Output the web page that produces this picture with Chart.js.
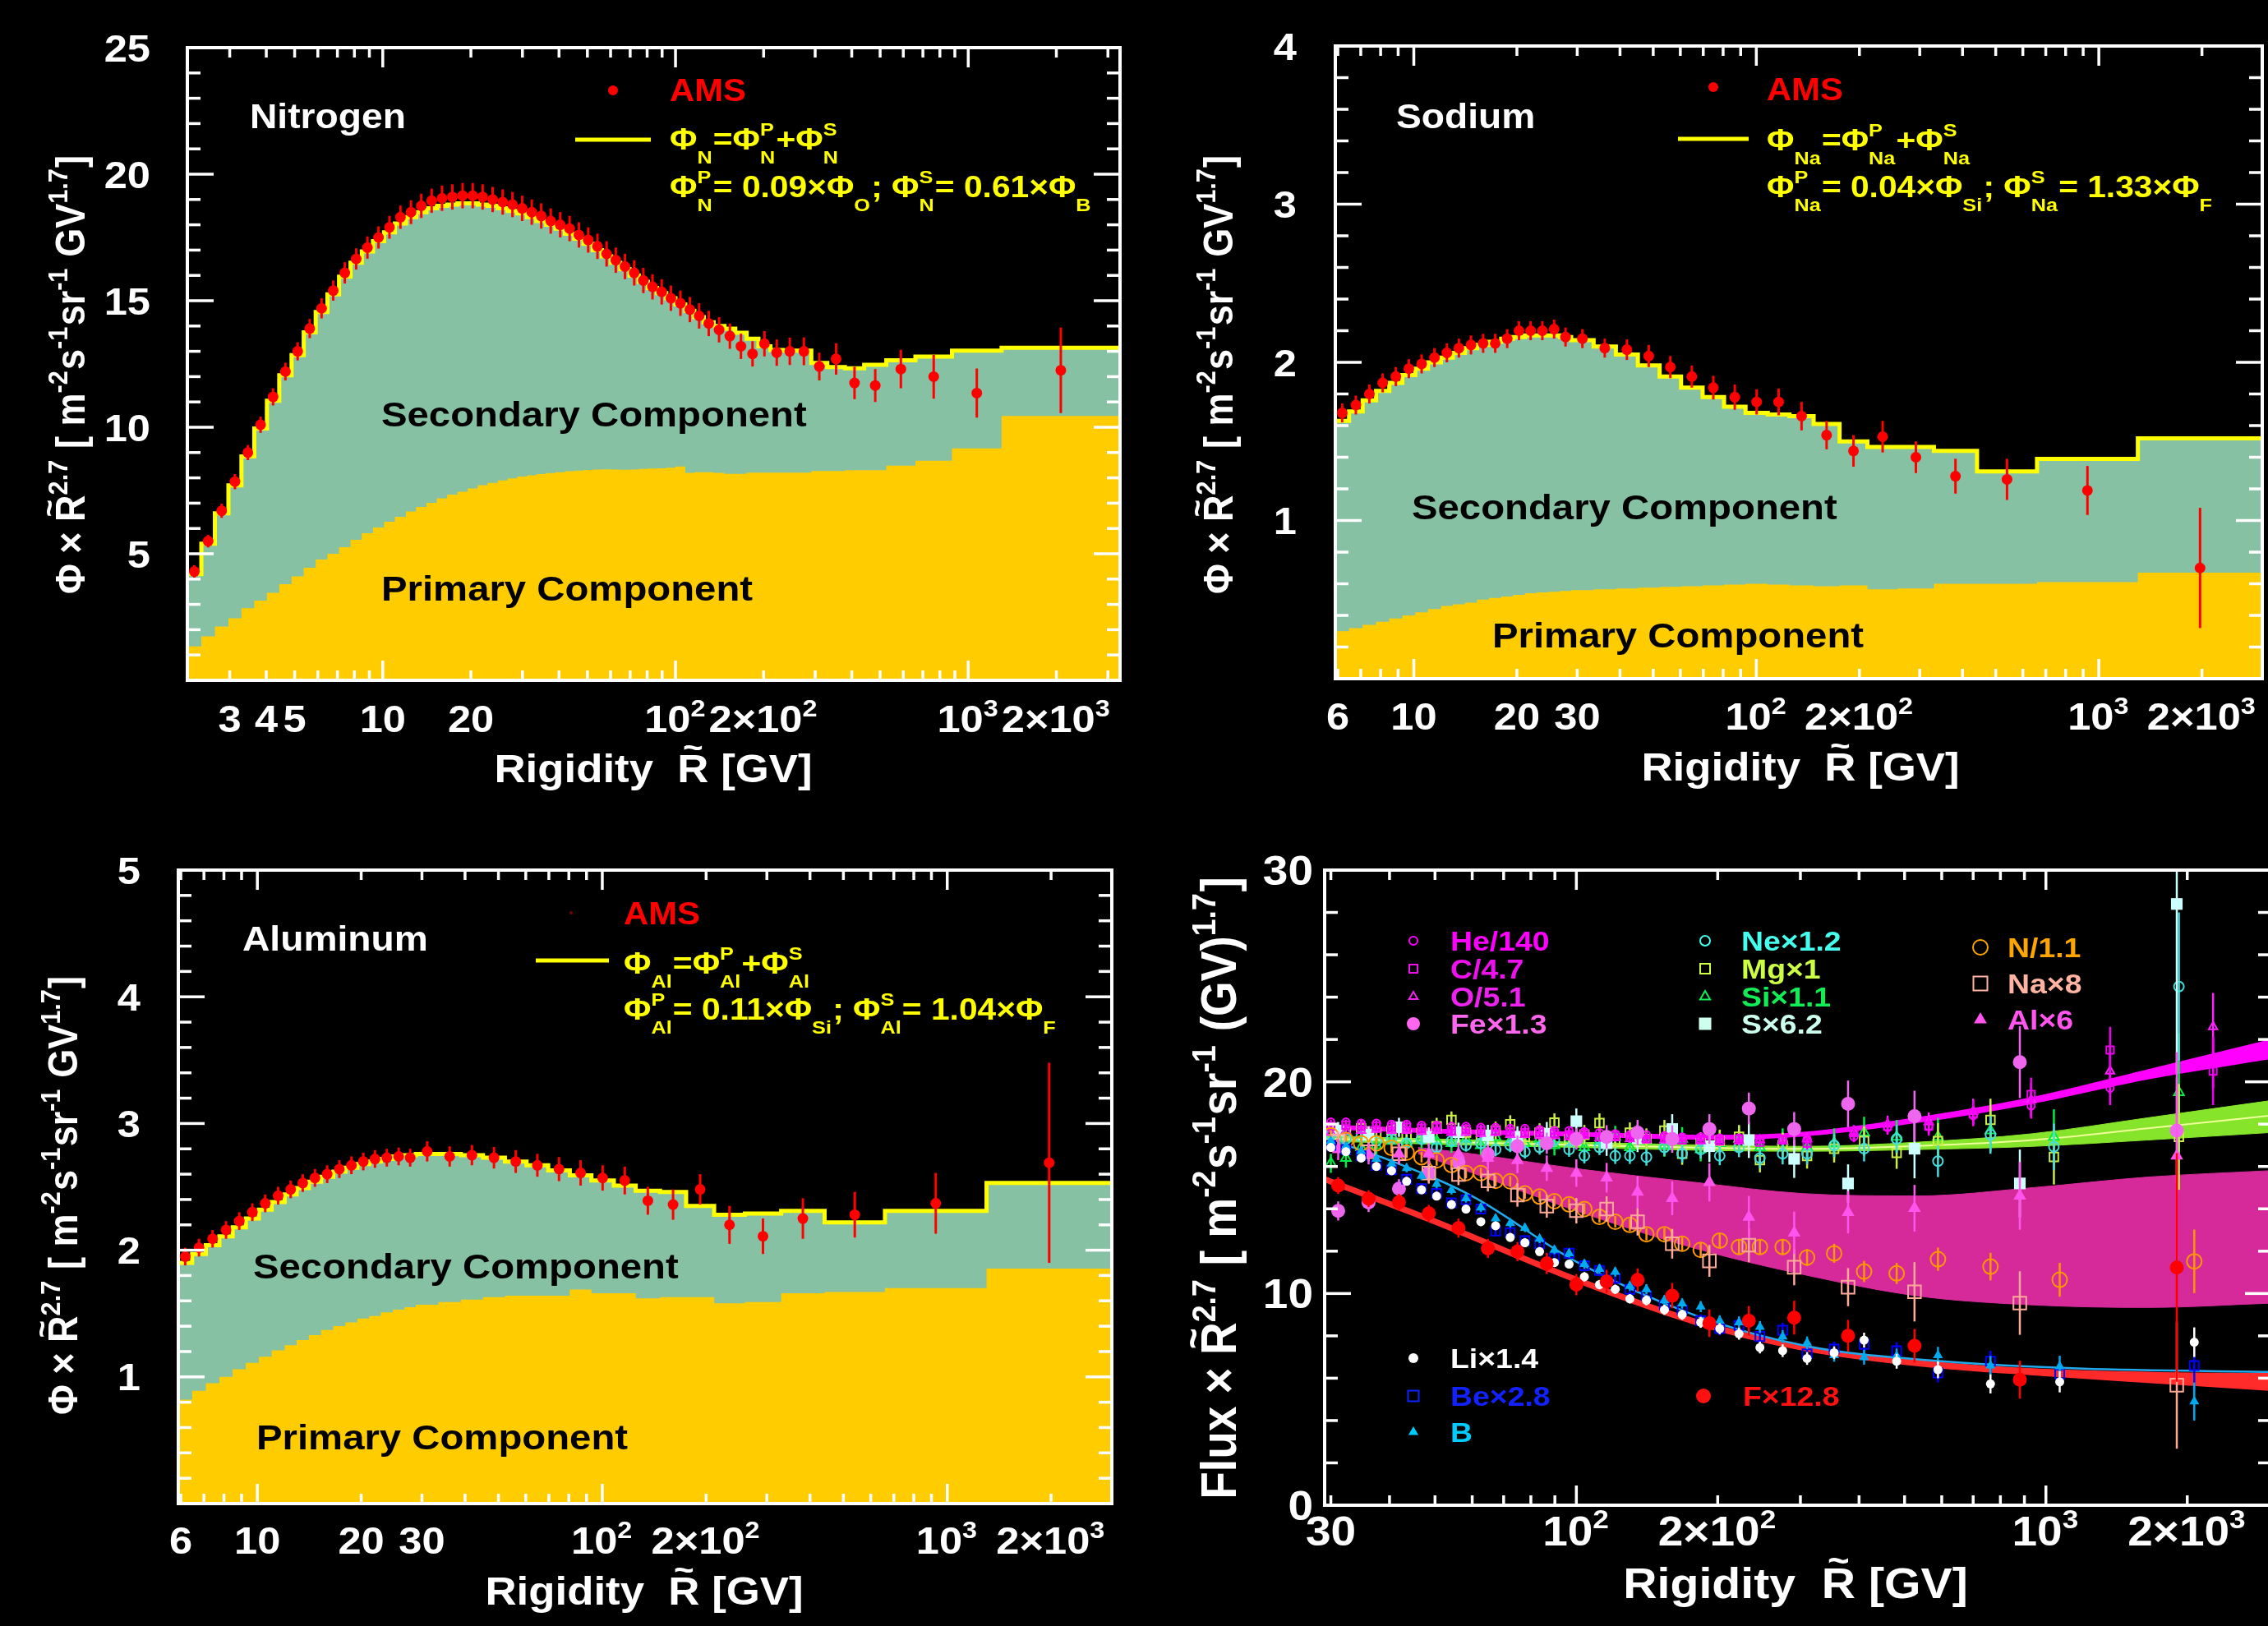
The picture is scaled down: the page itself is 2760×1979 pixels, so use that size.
<!DOCTYPE html>
<html>
<head>
<meta charset="utf-8">
<title>AMS nuclei: primary and secondary components</title>
<script src="https://cdn.jsdelivr.net/npm/chart.js@4.4.1/dist/chart.umd.min.js"></script>
<style>
  html, body { margin: 0; padding: 0; background: #000; overflow: hidden; }
  body { width: 2760px; height: 1979px; position: relative; }
  canvas { position: absolute; left: 0; top: 0; }
</style>
</head>
<body>
<canvas id="nitrogen" width="2760" height="1979"></canvas>
<canvas id="sodium" width="2760" height="1979"></canvas>
<canvas id="aluminum" width="2760" height="1979"></canvas>
<canvas id="fluxes" width="2800" height="1979"></canvas>
<script>
// ---------- Nitrogen (top left) ----------
const nEdges = [2.15, 2.40, 2.67, 2.97, 3.29, 3.64, 4.02, 4.43, 4.88, 5.37, 5.90, 6.47, 7.09, 7.76, 8.48, 9.26, 10.1, 11.0, 12.0, 13.0,
  14.1, 15.3, 16.6, 18.0, 19.5, 21.1, 22.8, 24.7, 26.7, 28.8, 31.1, 33.5, 36.1, 38.9, 41.9, 45.1, 48.5, 52.2, 56.1, 60.3,
  64.8, 69.7, 74.9, 80.5, 86.5, 93.0, 100, 108, 116, 125, 135, 147, 160, 175, 192, 211, 233, 259, 291, 330,
  379, 441, 525, 660, 880, 1300, 3300];
const nAms = [4.3, 5.5, 6.7, 7.85, 9.0, 10.1, 11.2, 12.2, 13.0, 13.9, 14.7, 15.4, 16.1, 16.65, 17.1, 17.5, 17.9, 18.3, 18.5, 18.75,
  18.95, 19.05, 19.1, 19.15, 19.15, 19.1, 19.0, 18.9, 18.8, 18.65, 18.5, 18.35, 18.15, 18.0, 17.85, 17.6, 17.4, 17.15, 16.85, 16.6,
  16.35, 16.1, 15.8, 15.55, 15.35, 15.1, 14.9, 14.65, 14.4, 14.1, 13.85,
  13.6, 13.2, 12.9, 13.3, 12.95, 13.0, 13.0, 12.4, 12.7, 11.75, 11.65, 12.3, 12.0, 11.35, 12.25];
const nErr = [0.25, 0.25, 0.28, 0.3, 0.3, 0.32, 0.34, 0.35, 0.36, 0.38, 0.4, 0.4, 0.42, 0.42, 0.44, 0.44, 0.45, 0.46, 0.47, 0.48,
  0.48, 0.5, 0.5, 0.5, 0.5, 0.5, 0.5, 0.5, 0.5, 0.5, 0.5, 0.5, 0.5, 0.5, 0.5, 0.5, 0.5, 0.5, 0.5, 0.5,
  0.5, 0.5, 0.5, 0.5, 0.5, 0.5, 0.5, 0.5, 0.5, 0.5, 0.5,
  0.5, 0.5, 0.5, 0.5, 0.52, 0.54, 0.55, 0.55, 0.62, 0.64, 0.65, 0.76, 0.87, 0.97, 1.69];
const nPrimary = [1.34, 1.74, 2.13, 2.45, 2.85, 3.15, 3.46, 3.80, 4.11, 4.45, 4.77, 5.00, 5.26, 5.55, 5.81, 6.04, 6.27, 6.46, 6.67, 6.85,
  7.01, 7.19, 7.34, 7.45, 7.58, 7.71, 7.80, 7.90, 7.98, 8.05, 8.10, 8.15, 8.19, 8.22, 8.26, 8.29, 8.31, 8.33, 8.34, 8.33,
  8.32, 8.33, 8.35, 8.37, 8.38, 8.40, 8.45, 8.20, 8.22, 8.22, 8.20, 8.16, 8.16, 8.21, 8.21, 8.21, 8.21, 8.21, 8.27, 8.27,
  8.30, 8.30, 8.48, 8.68, 9.16, 10.45];
const nTotal = [4.2, 5.4, 6.6, 7.7, 8.85, 9.95, 11.05, 12.05, 12.85, 13.75, 14.55, 15.25, 15.95, 16.5, 16.95, 17.35, 17.7, 18.05, 18.3, 18.5,
  18.65, 18.75, 18.8, 18.85, 18.85, 18.8, 18.75, 18.65, 18.55, 18.45, 18.3, 18.15, 18.0, 17.85, 17.65, 17.45, 17.25, 17.0, 16.75, 16.5,
  16.25, 16.0, 15.75, 15.5, 15.3, 15.1, 14.85, 14.6, 14.35, 14.15, 14.0,
  13.9, 13.73, 13.5, 13.2, 13.05, 13.03, 13.03, 12.54, 12.38, 12.33, 12.47, 12.65, 12.79, 13.03, 13.14];
const nXTicks = [3, 4, 5, 10, 20, 100, 200, 1000, 2000];
const nXText = ['3', '4', '5', '10', '20', '10^2', '2×10^2', '10^3', '2×10^3'];
const nYTicks = [5, 10, 15, 20, 25];

// ---------- Sodium (top right) ----------
const naEdges = [5.90, 6.47, 7.09, 7.76, 8.48, 9.26, 10.1, 11.0, 12.0, 13.0, 14.1, 15.3, 16.6, 18.0, 19.5, 21.1, 22.8, 24.7, 26.7, 28.8,
  33.5, 38.9, 45.1, 52.2, 60.3, 69.7, 80.5, 93.0, 108, 125, 147, 175, 211, 259, 330, 441, 660, 1300, 3000];
const naAms = [1.68, 1.73, 1.80, 1.87, 1.91, 1.96, 1.99, 2.03, 2.06, 2.09, 2.11, 2.12, 2.12, 2.15, 2.20, 2.20, 2.20, 2.21, 2.16,
  2.15, 2.09, 2.08, 2.04, 1.97, 1.91, 1.84, 1.78, 1.75, 1.75, 1.66, 1.54, 1.44, 1.53, 1.40, 1.28, 1.26, 1.19, 0.70];
const naErr = [0.06, 0.06, 0.06, 0.06, 0.06, 0.06, 0.06, 0.06, 0.06, 0.06, 0.06, 0.06, 0.06, 0.06, 0.06, 0.06, 0.06, 0.06, 0.06,
  0.06, 0.06, 0.065, 0.07, 0.07, 0.07, 0.075, 0.08, 0.08, 0.085, 0.09, 0.09, 0.10, 0.10, 0.10, 0.11, 0.13, 0.155, 0.38];
const naPrimary = [0.30, 0.32, 0.34, 0.36, 0.38, 0.40, 0.42, 0.44, 0.46, 0.47, 0.48, 0.50, 0.51, 0.52, 0.53, 0.54, 0.545, 0.55, 0.555,
  0.56, 0.565, 0.57, 0.575, 0.58, 0.585, 0.59, 0.595, 0.60, 0.595, 0.59, 0.585, 0.59, 0.565, 0.57, 0.60, 0.60, 0.61, 0.67];
const naTotal = [1.63, 1.69, 1.76, 1.82, 1.87, 1.92, 1.96, 2.00, 2.03, 2.06, 2.09, 2.11, 2.13, 2.15, 2.16, 2.17, 2.17, 2.17, 2.16,
  2.14, 2.10, 2.05, 1.98, 1.91, 1.84, 1.78, 1.72, 1.68, 1.67, 1.66, 1.61, 1.50, 1.465, 1.465, 1.44, 1.31, 1.39, 1.52];
const naXTicks = [6, 10, 20, 30, 100, 200, 1000, 2000];
const naXText = ['6', '10', '20', '30', '10^2', '2×10^2', '10^3', '2×10^3'];
const naYTicks = [1, 2, 3, 4];

// ---------- Aluminum (bottom left) ----------
const alEdges = [5.90, 6.47, 7.09, 7.76, 8.48, 9.26, 10.1, 11.0, 12.0, 13.0, 14.1, 15.3, 16.6, 18.0, 19.5, 21.1, 22.8, 24.7, 26.7, 28.8,
  33.5, 38.9, 45.1, 52.2, 60.3, 69.7, 80.5, 93.0, 108, 125, 147, 175, 211, 259, 330, 441, 660, 1300, 3000];
const alAms = [1.95, 2.02, 2.09, 2.16, 2.23, 2.30, 2.37, 2.43, 2.48, 2.53, 2.57, 2.60, 2.64, 2.67, 2.70, 2.72, 2.73, 2.74, 2.73,
  2.78, 2.74, 2.75, 2.73, 2.70, 2.67, 2.64, 2.61, 2.57, 2.55, 2.39, 2.36, 2.48, 2.20, 2.11, 2.25, 2.28, 2.37, 2.69];
const alErr = [0.07, 0.07, 0.07, 0.07, 0.07, 0.07, 0.07, 0.07, 0.07, 0.07, 0.07, 0.07, 0.07, 0.07, 0.07, 0.07, 0.07, 0.07, 0.07,
  0.08, 0.08, 0.08, 0.085, 0.09, 0.09, 0.095, 0.10, 0.10, 0.11, 0.11, 0.12, 0.12, 0.15, 0.14, 0.16, 0.18, 0.24, 0.79];
const alPrimary = [0.82, 0.89, 0.95, 1.00, 1.06, 1.11, 1.16, 1.21, 1.25, 1.29, 1.33, 1.37, 1.40, 1.43, 1.46, 1.48, 1.51, 1.53, 1.55,
  1.57, 1.59, 1.61, 1.63, 1.64, 1.64, 1.64, 1.69, 1.66, 1.66, 1.62, 1.63, 1.63, 1.58, 1.59, 1.66, 1.67, 1.70, 1.855];
const alTotal = [1.90, 1.97, 2.04, 2.11, 2.18, 2.25, 2.32, 2.38, 2.44, 2.49, 2.54, 2.58, 2.62, 2.65, 2.68, 2.70, 2.72, 2.74, 2.75,
  2.76, 2.76, 2.75, 2.73, 2.70, 2.67, 2.63, 2.59, 2.55, 2.51, 2.47, 2.46, 2.35, 2.28, 2.29, 2.31, 2.22, 2.31, 2.53];
const alXTicks = [6, 10, 20, 30, 100, 200, 1000, 2000];
const alXText = ['6', '10', '20', '30', '10^2', '2×10^2', '10^3', '2×10^3'];
const alYTicks = [1, 2, 3, 4, 5];

// ---------- Flux × R^2.7 comparison (bottom right) ----------
const xSingle = [30.0, 32.3, 34.8, 37.5, 40.4, 43.5, 46.8, 50.4, 54.2, 58.2, 62.6, 67.3, 72.3, 77.7, 83.5, 89.8, 96.5, 104, 112, 121,
  130, 141, 154, 168, 184, 202, 222, 246, 275, 310, 354, 410, 481, 589, 762, 1070, 2070];
const xHeCO = [30.0, 32.3, 34.8, 37.5, 40.4, 43.5, 46.8, 50.4, 54.2, 58.2, 62.6, 67.3, 72.3, 77.7, 83.5, 89.8, 96.5, 104, 112, 121,
  130, 141, 154, 168, 184, 202, 222, 246, 275, 310, 390, 460, 563, 700, 930, 1370, 2270];
const xNeMgSi = [30.0, 32.3, 34.8, 37.5, 40.4, 43.5, 46.8, 50.4, 54.2, 58.2, 62.6, 67.3, 72.3, 77.7, 83.5, 89.8, 96.5, 104, 112, 121,
  130, 141, 154, 168, 184, 202, 222, 246, 275, 310, 354, 410, 481, 589, 762, 1040, 1920];
const xDouble = [31.1, 36.1, 41.9, 48.5, 56.1, 64.8, 74.9, 86.5, 100, 116, 135, 160, 192, 233, 291, 379, 525, 880, 1900];

const heVal = [18.1, 18.1, 18.05, 18.05, 18.0, 18.0, 17.95, 17.95, 17.9, 17.9, 17.85, 17.85, 17.8, 17.8, 17.75, 17.7, 17.7, 17.65, 17.6, 17.55,
  17.5, 17.5, 17.45, 17.4, 17.4, 17.35, 17.35, 17.3, 17.3, 17.3, 17.4, 17.84, 17.9, 18.4, 18.86, 19.7, 20.9];
const heErr = [0.12, 0.12, 0.12, 0.12, 0.12, 0.12, 0.12, 0.12, 0.12, 0.12, 0.12, 0.12, 0.12, 0.12, 0.12, 0.12, 0.12, 0.12, 0.12, 0.12,
  0.12, 0.12, 0.12, 0.12, 0.12, 0.12, 0.12, 0.12, 0.12, 0.2, 0.25, 0.3, 0.35, 0.45, 0.6, 0.8, 1.2];
const cVal = [17.9, 17.95, 17.9, 17.9, 17.85, 17.85, 17.8, 17.85, 17.7, 17.75, 17.7, 17.7, 17.65, 17.6, 17.6, 17.55, 17.5, 17.55, 17.4, 17.45,
  17.4, 17.3, 17.35, 17.25, 17.3, 17.2, 17.3, 17.15, 17.25, 17.1, 17.6, 17.9, 17.9, 18.5, 19.4, 21.5, 20.5];
const oVal = [17.6, 17.7, 17.7, 17.75, 17.7, 17.7, 17.65, 17.7, 17.6, 17.6, 17.55, 17.6, 17.5, 17.5, 17.45, 17.45, 17.4, 17.45, 17.35, 17.35,
  17.3, 17.3, 17.25, 17.3, 17.2, 17.25, 17.2, 17.25, 17.2, 17.3, 17.6, 18.0, 18.1, 18.6, 19.15, 20.5, 22.6];
const coErr = [0.18, 0.18, 0.18, 0.18, 0.18, 0.18, 0.18, 0.18, 0.18, 0.18, 0.18, 0.18, 0.18, 0.18, 0.18, 0.18, 0.18, 0.18, 0.18, 0.18,
  0.18, 0.18, 0.18, 0.18, 0.18, 0.18, 0.18, 0.18, 0.18, 0.3, 0.35, 0.4, 0.45, 0.6, 0.8, 1.1, 1.6];
const neVal = [17.5, 17.3, 17.4, 17.2, 17.3, 17.1, 17.3, 16.9, 17.2, 17.0, 17.1, 16.8, 17.0, 16.7, 16.9, 17.25, 16.8, 16.5, 16.9, 16.5,
  16.5, 16.44, 16.9, 16.6, 16.8, 16.5, 16.9, 16.4, 16.6, 16.6, 17.0, 16.84, 17.3, 16.25, 17.5, 16.93, 24.5];
const neErr = [0.3, 0.3, 0.3, 0.3, 0.3, 0.3, 0.3, 0.3, 0.3, 0.3, 0.32, 0.32, 0.32, 0.32, 0.34, 0.34, 0.34, 0.36, 0.36, 0.38,
  0.38, 0.4, 0.4, 0.42, 0.42, 0.44, 0.46, 0.48, 0.5, 0.5, 0.55, 0.6, 0.65, 0.75, 0.9, 1.1, 3.5];
const mgVal = [17.7, 17.6, 17.8, 17.6, 17.7, 17.5, 17.6, 17.9, 18.2, 17.6, 17.5, 17.7, 18.0, 17.4, 17.6, 18.07, 17.3, 17.5, 18.05, 17.2,
  17.6, 17.3, 17.7, 16.6, 17.1, 17.2, 17.4, 16.3, 17.0, 16.5, 16.84, 17.2, 16.64, 17.2, 18.2, 16.45, 17.4];
const mgErr = [0.4, 0.4, 0.4, 0.4, 0.4, 0.4, 0.4, 0.4, 0.4, 0.4, 0.42, 0.42, 0.42, 0.42, 0.44, 0.44, 0.44, 0.46, 0.46, 0.48,
  0.48, 0.5, 0.5, 0.52, 0.52, 0.54, 0.56, 0.58, 0.6, 0.6, 0.65, 0.7, 0.75, 0.85, 1.0, 1.3, 2.5];
const siVal = [16.15, 16.4, 16.9, 17.0, 17.2, 17.1, 17.3, 17.2, 17.1, 17.3, 17.0, 17.4, 17.2, 17.1, 17.3, 17.0, 17.3, 16.9, 17.2, 17.4,
  16.9, 17.2, 17.0, 17.3, 16.8, 17.1, 17.3, 16.9, 17.2, 16.9, 17.1, 17.6, 17.4, 17.4, 17.7, 17.4, 19.5];
const siErr = [0.45, 0.45, 0.45, 0.45, 0.45, 0.45, 0.45, 0.45, 0.45, 0.45, 0.46, 0.46, 0.46, 0.46, 0.48, 0.48, 0.48, 0.5, 0.5, 0.52,
  0.52, 0.54, 0.54, 0.56, 0.56, 0.58, 0.6, 0.6, 0.6, 0.6, 0.7, 0.75, 0.8, 0.9, 1.0, 1.3, 2.8];
const liVal = [16.9, 16.7, 16.4, 16.0, 15.8, 15.3, 14.9, 14.6, 14.2, 13.99, 13.39, 13.2, 12.65, 12.4, 11.98, 11.46, 11.39, 10.79, 10.42, 10.2,
  9.75, 9.68, 9.23, 9.0, 8.64, 8.34, 8.1, 7.45, 7.3, 6.93, 7.2, 7.8, 6.8, 6.4, 5.73, 5.83, 7.7];
const liErr = [0.2, 0.2, 0.2, 0.2, 0.2, 0.2, 0.2, 0.2, 0.2, 0.2, 0.2, 0.2, 0.2, 0.2, 0.2, 0.2, 0.2, 0.22, 0.22, 0.22,
  0.22, 0.24, 0.24, 0.24, 0.26, 0.26, 0.28, 0.28, 0.3, 0.3, 0.3, 0.35, 0.35, 0.4, 0.45, 0.5, 0.7];
const beVal = [17.0, 16.8, 16.5, 16.06, 15.84, 15.4, 14.95, 14.73, 14.28, 14.43, 13.99, 12.95, 12.87, 12.5, 12.35, 11.68, 11.9, 11.31, 11.09, 10.72,
  10.2, 9.9, 9.46, 9.23, 8.71, 8.34, 8.49, 7.97, 8.27, 7.15, 7.37, 7.6, 7.3, 6.25, 6.8, 6.2, 6.6];
const beErr = [0.25, 0.25, 0.25, 0.25, 0.25, 0.25, 0.25, 0.25, 0.25, 0.25, 0.25, 0.25, 0.25, 0.25, 0.25, 0.25, 0.25, 0.27, 0.27, 0.27,
  0.27, 0.29, 0.29, 0.29, 0.31, 0.31, 0.33, 0.33, 0.35, 0.35, 0.35, 0.4, 0.4, 0.45, 0.5, 0.6, 1.2];
const bVal = [17.2, 16.95, 16.73, 16.36, 16.14, 15.92, 15.55, 15.17, 14.88, 14.5, 14.06, 13.54, 13.32, 13.1, 12.58, 12.06, 11.9, 11.39, 11.16, 11.02,
  10.35, 10.2, 9.68, 9.53, 9.38, 8.71, 8.64, 8.42, 7.97, 7.67, 7.08, 6.99, 7.05, 7.08, 6.6, 6.56, 4.9];
const bErr = [0.2, 0.2, 0.2, 0.2, 0.2, 0.2, 0.2, 0.2, 0.2, 0.2, 0.2, 0.2, 0.2, 0.2, 0.2, 0.2, 0.2, 0.22, 0.22, 0.22,
  0.22, 0.24, 0.24, 0.24, 0.26, 0.26, 0.28, 0.28, 0.3, 0.3, 0.3, 0.35, 0.35, 0.4, 0.45, 0.5, 0.9];
const nVal = [17.47, 17.25, 17.1, 17.1, 16.88, 16.66, 16.44, 16.29, 16.07, 15.69, 15.69, 15.32, 15.3, 14.73, 14.58, 14.36, 14.21, 13.99, 13.62, 13.39,
  13.24, 12.8, 12.8, 12.35, 12.06, 12.5, 12.2, 12.2, 12.2, 11.7, 11.9, 11.04, 10.95, 11.62, 11.27, 10.65, 11.52];
const nValErr = [0.25, 0.25, 0.25, 0.25, 0.25, 0.25, 0.25, 0.25, 0.25, 0.25, 0.25, 0.25, 0.25, 0.25, 0.25, 0.25, 0.27, 0.27, 0.27, 0.27,
  0.29, 0.29, 0.29, 0.31, 0.31, 0.33, 0.33, 0.35, 0.37, 0.4, 0.45, 0.5, 0.5, 0.55, 0.65, 0.8, 1.5];
const fVal = [15.1, 14.48, 14.31, 13.79, 13.09, 12.13, 11.98, 11.42, 10.42, 10.57, 10.64, 9.9, 8.6, 8.71, 8.86, 8.0, 7.53, 5.93, 11.23];
const fErr = [0.4, 0.4, 0.4, 0.4, 0.45, 0.45, 0.45, 0.5, 0.5, 0.55, 0.55, 0.6, 0.65, 0.7, 0.8, 0.75, 0.8, 0.9, 5.4];
const naVal = [17.2, 16.7, 16.6, 15.69, 15.62, 15.32, 14.65, 14.13, 13.91, 13.99, 13.39, 12.35, 11.54, 12.28, 11.24, 10.3, 10.08, 9.55, 5.67];
const naValErr = [0.45, 0.45, 0.45, 0.5, 0.5, 0.5, 0.55, 0.55, 0.6, 0.6, 0.65, 0.7, 0.75, 0.8, 0.85, 0.9, 1.4, 1.5, 3.0];
const alVal = [16.8, 16.6, 16.6, 16.6, 16.58, 16.4, 16.29, 15.92, 15.69, 15.47, 14.8, 14.5, 15.25, 13.61, 12.87, 13.84, 14.03, 14.61, 16.5];
const alValErr = [0.5, 0.5, 0.5, 0.5, 0.55, 0.55, 0.6, 0.6, 0.65, 0.7, 0.75, 0.8, 0.9, 1.0, 1.0, 1.0, 1.1, 1.6, 4.9];
const feVal = [13.9, 14.3, 14.95, 15.7, 16.2, 16.58, 16.96, 17.1, 17.3, 17.4, 17.6, 17.3, 17.77, 18.74, 17.77, 18.96, 18.38, 20.93, 17.7];
const feErr = [0.45, 0.45, 0.45, 0.45, 0.45, 0.45, 0.5, 0.5, 0.5, 0.55, 0.6, 0.65, 0.7, 0.75, 0.8, 1.1, 1.2, 1.7, 2.5];
const sVal = [17.7, 17.5, 17.85, 17.4, 17.62, 17.47, 17.4, 17.55, 18.14, 17.1, 17.33, 17.77, 16.96, 17.25, 16.36, 15.2, 16.84, 15.2, 28.4];
const sErr = [0.4, 0.4, 0.45, 0.45, 0.45, 0.5, 0.5, 0.55, 0.6, 0.6, 0.65, 0.7, 0.75, 0.85, 0.9, 0.9, 1.4, 1.6, 8.0];

// fit bands
const bandX = [29.1, 50, 100, 200, 304, 535, 938, 1648, 2985];
const heBandHi = [17.95, 17.75, 17.6, 17.45, 17.6, 18.3, 19.25, 20.55, 21.95];
const heBandLo = [17.8, 17.6, 17.45, 17.3, 17.45, 18.1, 19.0, 20.15, 21.1];
const neBandHi = [17.45, 17.3, 17.15, 17.0, 16.95, 17.15, 17.55, 18.3, 19.1];
const neBandLo = [17.2, 17.05, 16.9, 16.75, 16.72, 16.8, 16.95, 17.25, 17.6];
const neBandMid = [17.32, 17.17, 17.02, 16.87, 16.83, 16.97, 17.25, 17.8, 18.4];
const pinkX = [46, 60, 100, 179, 304, 535, 938, 1648, 2985];
const pinkHi = [16.9, 16.6, 15.9, 15.25, 14.72, 14.61, 15.0, 15.5, 15.8];
const pinkLo = [16.6, 15.7, 13.9, 12.13, 10.9, 9.88, 9.46, 9.34, 9.54];
const redX = [29.1, 50, 100, 180, 312, 540, 980, 1700, 2985];
const redHi = [15.5, 13.5, 10.75, 8.75, 7.45, 6.8, 6.4, 6.25, 6.2];
const redLo = [15.3, 13.3, 10.55, 8.55, 7.3, 6.6, 6.15, 5.8, 5.45];
const cyanX = [31, 40, 60, 100, 180, 312, 600, 1200, 2985];
const cyanY = [17.15, 16.3, 14.6, 11.5, 8.95, 7.5, 6.8, 6.45, 6.3];

const fxXTicks = [30, 100, 200, 1000, 2000];
const fxXText = ['30', '10^2', '2×10^2', '10^3', '2×10^3'];
const fxYTicks = [0, 10, 20, 30];

// ---------- helpers ----------
const FAMILY = '"Liberation Sans", Arial, Helvetica, sans-serif';
const SX = 1.1; // text in the original is drawn slightly wide
function font(s) { return 'bold ' + s + 'px ' + FAMILY; }

function pts(xs, ys) { return xs.map((x, i) => ({x: x, y: ys[i]})); }
function centers(edges) { return edges.slice(0, -1).map((e, i) => Math.sqrt(e * edges[i + 1])); }
function stepData(edges, vals) {
  const out = vals.map((v, i) => ({x: edges[i], y: v}));
  out.push({x: edges[edges.length - 1], y: vals[vals.length - 1]});
  return out;
}
function parseLabel(t) {
  const i = t.indexOf('^');
  return i < 0 ? [t] : [t.slice(0, i), {sup: t.slice(i + 1)}];
}

// rich text: strings, {sup}, {sub}, {sup, sub} stacked, {tilde: 'R'}
function rich(ctx, items, x, y, size, color, align, opt) {
  opt = opt || {};
  const ss = opt.ss || 0.64, up = opt.up || 0.42, dn = opt.dn || 0.3;
  ctx.save();
  ctx.translate(x, y);
  ctx.scale(SX, 1);
  if (opt.rot) ctx.rotate(-Math.PI / 2);
  const ws = items.map(it => {
    if (typeof it === 'string') { ctx.font = font(size); return ctx.measureText(it).width; }
    if (it.tilde) { ctx.font = font(size); return ctx.measureText(it.tilde).width; }
    ctx.font = font(size * ss);
    return Math.max(it.sup ? ctx.measureText(it.sup).width : 0, it.sub ? ctx.measureText(it.sub).width : 0) + size * 0.03;
  });
  const total = ws.reduce((a, b) => a + b, 0);
  let cx = align === 'center' ? -total / 2 : align === 'right' ? -total : 0;
  ctx.fillStyle = color;
  ctx.textBaseline = 'alphabetic';
  items.forEach((it, i) => {
    ctx.textAlign = 'left';
    if (typeof it === 'string') {
      ctx.font = font(size); ctx.fillText(it, cx, 0);
    } else if (it.tilde) {
      ctx.font = font(size); ctx.fillText(it.tilde, cx, 0);
      ctx.font = font(size * 0.8); ctx.textAlign = 'center';
      ctx.fillText('~', cx + ws[i] / 2, -size * 0.6);
    } else {
      ctx.font = font(size * ss);
      if (it.sup) ctx.fillText(it.sup, cx, -size * up);
      if (it.sub) ctx.fillText(it.sub, cx, size * dn);
    }
    cx += ws[i];
  });
  ctx.restore();
}

function seg(ctx, x0, y0, x1, y1) { ctx.beginPath(); ctx.moveTo(x0, y0); ctx.lineTo(x1, y1); ctx.stroke(); }

function drawFrame(chart, o) {
  const ctx = chart.ctx, a = chart.chartArea, xs = chart.scales.x, ys = chart.scales.y;
  ctx.save();
  ctx.strokeStyle = '#ffffff';
  ctx.lineWidth = 3.5;
  const n = Math.round(ys.max / o.yStep);
  for (let k = 0; k <= n; k++) {
    const p = ys.getPixelForValue(k * o.yStep);
    const L = k % o.yEvery === 0 ? 32 : 16;
    seg(ctx, a.left, p, a.left + L, p);
    seg(ctx, a.right, p, a.right - L, p);
  }
  const d0 = Math.floor(Math.log10(xs.min)), d1 = Math.ceil(Math.log10(xs.max));
  for (let d = d0; d <= d1; d++) {
    for (let m = 1; m <= 9; m++) {
      const v = m * Math.pow(10, d);
      if (v < xs.min || v > xs.max) continue;
      const p = xs.getPixelForValue(v);
      const L = m === 1 ? 24 : 12;
      seg(ctx, p, a.bottom, p, a.bottom - L);
      seg(ctx, p, a.top, p, a.top + L);
    }
  }
  ctx.lineWidth = 4;
  ctx.strokeRect(a.left, a.top, a.right - a.left, a.bottom - a.top);
  ctx.restore();
  o.xTicks.forEach((v, i) => rich(ctx, parseLabel(o.xText[i]), xs.getPixelForValue(v), a.bottom + o.xDy, o.fs, '#ffffff', 'center'));
  o.yTicks.forEach(v => rich(ctx, [String(v)], a.left - o.yDx, ys.getPixelForValue(v) + o.fs * 0.36, o.fs, '#ffffff', 'right'));
}

const errorBars = {
  id: 'errorBars',
  beforeDatasetDraw(chart, args) {
    const ds = chart.data.datasets[args.index];
    if (!ds.errs) return;
    const ctx = chart.ctx, a = chart.chartArea, ys = chart.scales.y;
    ctx.save();
    ctx.beginPath(); ctx.rect(a.left, a.top, a.right - a.left, a.bottom - a.top); ctx.clip();
    ctx.strokeStyle = ds.errColor;
    ctx.lineWidth = ds.errWidth;
    args.meta.data.forEach((pt, i) => {
      const v = ds.data[i].y, e = ds.errs[i];
      seg(ctx, pt.x, ys.getPixelForValue(v - e), pt.x, ys.getPixelForValue(v + e));
    });
    ctx.restore();
  }
};

function makeChart(id, pad, xmin, xmax, ymax, datasets, deco) {
  return new Chart(document.getElementById(id), {
    type: 'scatter',
    data: {datasets: datasets},
    options: {
      responsive: false, animation: false, devicePixelRatio: 1, events: [],
      layout: {padding: pad},
      scales: {
        x: {type: 'logarithmic', min: xmin, max: xmax, display: false},
        y: {type: 'linear', min: 0, max: ymax, display: false}
      },
      plugins: {legend: {display: false}, tooltip: {enabled: false}}
    },
    plugins: [errorBars, {id: 'deco', afterDraw: deco}]
  });
}

function histSets(edges, ams, err, prim, tot) {
  return [
    {data: pts(centers(edges), ams), errs: err, errColor: '#ff0000', errWidth: 3,
      pointStyle: 'circle', pointRadius: 6.5, backgroundColor: '#ff0000', borderColor: '#ff0000', borderWidth: 0},
    {type: 'line', data: stepData(edges, prim), stepped: true, fill: 'origin',
      backgroundColor: '#ffcc00', borderColor: '#ffcc00', borderWidth: 0, pointRadius: 0},
    {type: 'line', data: stepData(edges, tot), stepped: true, fill: 'origin',
      backgroundColor: '#86c1a4', borderColor: '#ffff00', borderWidth: 5, pointRadius: 0}
  ];
}

const Y_TITLE = ['Φ × ', {tilde: 'R'}, {sup: '2.7'}, ' [ m', {sup: '-2'}, 's', {sup: '-1'}, 'sr', {sup: '-1'}, ' GV', {sup: '1.7'}, ']'];
const X_TITLE = ['Rigidity  ', {tilde: 'R'}, ' [GV]'];
const FORM = {ss: 0.62, up: 0.45, dn: 0.45};

function histDeco(t) {
  return function (chart) {
    const ctx = chart.ctx;
    drawFrame(chart, t.frame);
    rich(ctx, [t.name], t.nameX, t.nameY, 42, '#ffffff', 'left');
    ctx.save();
    ctx.fillStyle = t.dotColor;
    ctx.beginPath(); ctx.arc(t.dotX, t.dotY, t.dotR, 0, 2 * Math.PI); ctx.fill();
    ctx.strokeStyle = '#ffff00'; ctx.lineWidth = 5;
    seg(ctx, t.lineX0, t.lineY, t.lineX1, t.lineY);
    ctx.restore();
    rich(ctx, ['AMS'], t.legX, t.amsY, 38, '#ff0000', 'left');
    rich(ctx, t.f1, t.legX, t.f1Y, 37, '#ffff00', 'left', FORM);
    rich(ctx, t.f2, t.legX, t.f2Y, 37, '#ffff00', 'left', FORM);
    rich(ctx, ['Secondary Component'], t.secX, t.secY, 43, '#000000', 'left');
    rich(ctx, ['Primary Component'], t.priX, t.priY, 43, '#000000', 'left');
    rich(ctx, X_TITLE, t.xtX, t.xtY, 48, '#ffffff', 'center');
    rich(ctx, Y_TITLE, t.ytX, t.ytY, 45, '#ffffff', 'center', {rot: true, ss: 0.68});
  };
}

// ---------- Nitrogen ----------
makeChart('nitrogen', {left: 228, top: 58, right: 1397, bottom: 1151}, 2.15, 3300, 25,
  histSets(nEdges, nAms, nErr, nPrimary, nTotal),
  histDeco({
    frame: {yStep: 1, yEvery: 5, xTicks: nXTicks, xText: nXText, yTicks: nYTicks, fs: 46, xDy: 63, yDx: 45},
    name: 'Nitrogen', nameX: 304, nameY: 156,
    dotColor: '#ff0000', dotX: 746, dotY: 110, dotR: 6,
    lineX0: 700, lineX1: 792, lineY: 170,
    legX: 815, amsY: 123, f1Y: 182, f2Y: 240,
    f1: ['Φ', {sub: 'N'}, '=Φ', {sup: 'P', sub: 'N'}, '+Φ', {sup: 'S', sub: 'N'}],
    f2: ['Φ', {sup: 'P', sub: 'N'}, '= 0.09×Φ', {sub: 'O'}, '; Φ', {sup: 'S', sub: 'N'}, '= 0.61×Φ', {sub: 'B'}],
    secX: 464, secY: 519, priX: 464, priY: 731,
    xtX: 795, xtY: 952, ytX: 103, ytY: 456
  }));

// ---------- Sodium ----------
makeChart('sodium', {left: 1625, top: 56, right: 7, bottom: 1153}, 5.9, 3000, 4,
  histSets(naEdges, naAms, naErr, naPrimary, naTotal),
  histDeco({
    frame: {yStep: 0.2, yEvery: 5, xTicks: naXTicks, xText: naXText, yTicks: naYTicks, fs: 46, xDy: 62, yDx: 47},
    name: 'Sodium', nameX: 1699, nameY: 156,
    dotColor: '#ff0000', dotX: 2085, dotY: 106, dotR: 6,
    lineX0: 2042, lineX1: 2128, lineY: 169,
    legX: 2150, amsY: 122, f1Y: 183, f2Y: 240,
    f1: ['Φ', {sub: 'Na'}, '=Φ', {sup: 'P', sub: 'Na'}, '+Φ', {sup: 'S', sub: 'Na'}],
    f2: ['Φ', {sup: 'P', sub: 'Na'}, '= 0.04×Φ', {sub: 'Si'}, '; Φ', {sup: 'S', sub: 'Na'}, '= 1.33×Φ', {sub: 'F'}],
    secX: 1718, secY: 632, priX: 1816, priY: 788,
    xtX: 2191, xtY: 950, ytX: 1500, ytY: 456
  }));

// ---------- Aluminum ----------
makeChart('aluminum', {left: 217, top: 1059, right: 1407, bottom: 149}, 5.9, 3000, 5,
  histSets(alEdges, alAms, alErr, alPrimary, alTotal),
  histDeco({
    frame: {yStep: 0.2, yEvery: 5, xTicks: alXTicks, xText: alXText, yTicks: alYTicks, fs: 46, xDy: 61, yDx: 46},
    name: 'Aluminum', nameX: 295, nameY: 1157,
    dotColor: '#770000', dotX: 695, dotY: 1111, dotR: 2,
    lineX0: 652, lineX1: 741, lineY: 1169,
    legX: 759, amsY: 1125, f1Y: 1185, f2Y: 1241,
    f1: ['Φ', {sub: 'Al'}, '=Φ', {sup: 'P', sub: 'Al'}, '+Φ', {sup: 'S', sub: 'Al'}],
    f2: ['Φ', {sup: 'P', sub: 'Al'}, '= 0.11×Φ', {sub: 'Si'}, '; Φ', {sup: 'S', sub: 'Al'}, '= 1.04×Φ', {sub: 'F'}],
    secX: 308, secY: 1556, priX: 312, priY: 1764,
    xtX: 784, xtY: 1953, ytX: 94, ytY: 1455
  }));

// ---------- Fluxes ----------
function series(xs, ys, errs, style, r, color, filled) {
  return {data: pts(xs, ys), errs: errs, errColor: color, errWidth: 2.5,
    pointStyle: style, pointRadius: r, borderColor: color, borderWidth: filled ? 0 : 2,
    backgroundColor: filled ? color : 'rgba(0,0,0,0)'};
}
function bandLine(xs, ys, color, width, fill) {
  return {type: 'line', data: pts(xs, ys), fill: fill, backgroundColor: color, borderColor: color,
    borderWidth: width, pointRadius: 0, cubicInterpolationMode: 'monotone'};
}

const fluxSets = [
  series(xDouble, fVal, fErr, 'circle', 8.5, '#ff0000', true),
  series(xSingle, liVal, liErr, 'circle', 5.5, '#ffffff', true),
  series(xSingle, bVal, bErr, 'triangle', 7, '#00aaee', true),
  series(xSingle, beVal, beErr, 'rect', 7.8, '#0000ff', false),
  series(xDouble, alVal, alValErr, 'triangle', 9, '#ff55ee', true),
  series(xDouble, naVal, naValErr, 'rect', 11, '#ffaa99', false),
  series(xSingle, nVal, nValErr, 'circle', 9, '#ff9900', false),
  series(xDouble, feVal, feErr, 'circle', 8.5, '#ee66ee', true),
  series(xHeCO, heVal, heErr, 'circle', 4.5, '#ff00ff', false),
  series(xHeCO, cVal, coErr, 'rect', 6.4, '#ee00ee', false),
  series(xHeCO, oVal, coErr, 'triangle', 6, '#ff22ff', false),
  series(xDouble, sVal, sErr, 'rect', 10, '#ccffff', true),
  series(xNeMgSi, neVal, neErr, 'circle', 6, '#44dddd', false),
  series(xNeMgSi, mgVal, mgErr, 'rect', 7.5, '#ccee44', false),
  series(xNeMgSi, siVal, siErr, 'triangle', 7, '#00ee44', false),
  bandLine(cyanX, cyanY, '#22aaee', 2.5, false),
  bandLine(redX, redHi, '#ff2a2a', 2.5, '+1'),
  bandLine(redX, redLo, '#ff2a2a', 2.5, false),
  bandLine(bandX, neBandMid, '#eeff99', 2, false),
  bandLine(bandX, neBandHi, '#86e52a', 1, '+1'),
  bandLine(bandX, neBandLo, '#86e52a', 1, false),
  bandLine(bandX, heBandHi, '#ff00ff', 2, '+1'),
  bandLine(bandX, heBandLo, '#ff00ff', 2, false),
  bandLine(pinkX, pinkHi, '#d62a9b', 1, '+1'),
  bandLine(pinkX, pinkLo, '#d62a9b', 1, false)
];

function legendMarker(ctx, style, x, y, r, color, filled) {
  ctx.save();
  ctx.strokeStyle = color; ctx.fillStyle = color; ctx.lineWidth = 2;
  ctx.beginPath();
  if (style === 'circle') ctx.arc(x, y, r, 0, 2 * Math.PI);
  else if (style === 'rect') ctx.rect(x - r, y - r, 2 * r, 2 * r);
  else { ctx.moveTo(x, y - r); ctx.lineTo(x + r * 0.87, y + r * 0.5); ctx.lineTo(x - r * 0.87, y + r * 0.5); ctx.closePath(); }
  if (filled) ctx.fill(); else ctx.stroke();
  ctx.restore();
}

const fluxLegend = [
  ['He/140', 1720, 1765, 1145, 'circle', 5, '#ff00ff', false],
  ['C/4.7', 1720, 1765, 1179, 'rect', 5, '#ee11ee', false],
  ['O/5.1', 1720, 1765, 1213, 'triangle', 6, '#ee22ee', false],
  ['Fe×1.3', 1720, 1765, 1246, 'circle', 8, '#ff66ee', true],
  ['Ne×1.2', 2075, 2119, 1145, 'circle', 6, '#44ffee', false],
  ['Mg×1', 2075, 2119, 1179, 'rect', 6, '#ccff44', false],
  ['Si×1.1', 2075, 2119, 1213, 'triangle', 7, '#11ee55', false],
  ['S×6.2', 2075, 2119, 1246, 'rect', 7.5, '#ccffee', true],
  ['N/1.1', 2410, 2443, 1153, 'circle', 9, '#ffa500', false],
  ['Na×8', 2410, 2443, 1197, 'rect', 8.5, '#ffb3a0', false],
  ['Al×6', 2410, 2443, 1241, 'triangle', 9, '#ff55ee', true],
  ['Li×1.4', 1720, 1765, 1653, 'circle', 6, '#ffffff', true],
  ['Be×2.8', 1720, 1765, 1699, 'rect', 6.5, '#1122ff', false],
  ['B', 1720, 1765, 1743, 'triangle', 7, '#00ccff', true],
  ['F×12.8', 2073, 2121, 1699, 'circle', 9, '#ff1111', true]
];

// canvas is 2800 wide so that the right frame line falls just outside the window
makeChart('fluxes', {left: 1612, top: 1059, right: 36, bottom: 147}, 29.1, 3020, 30, fluxSets, function (chart) {
  const ctx = chart.ctx;
  drawFrame(chart, {yStep: 2, yEvery: 5, xTicks: fxXTicks, xText: fxXText, yTicks: fxYTicks, fs: 50, xDy: 49, yDx: 14});
  fluxLegend.forEach(e => {
    legendMarker(ctx, e[4], e[1], e[3], e[5], e[6], e[7]);
    rich(ctx, [e[0]], e[2], e[3] + 12, 34, e[6], 'left');
  });
  rich(ctx, X_TITLE, 2185, 1945, 52, '#ffffff', 'center');
  rich(ctx, ['Flux × ', {tilde: 'R'}, {sup: '2.7'}, ' [ m', {sup: '-2'}, 's', {sup: '-1'}, 'sr', {sup: '-1'}, ' (GV)', {sup: '1.7'}, ']'],
    1504, 1446, 55, '#ffffff', 'center', {rot: true, ss: 0.68});
});
</script>
</body>
</html>
